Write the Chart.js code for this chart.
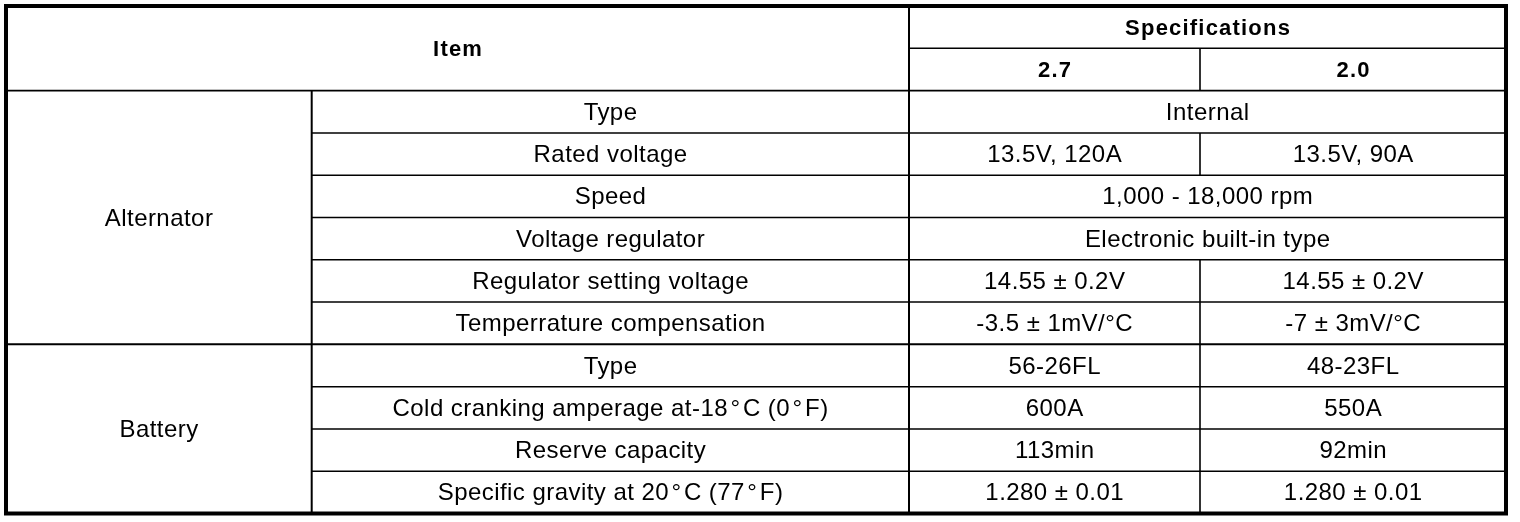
<!DOCTYPE html>
<html>
<head>
<meta charset="utf-8">
<script src="https://cdn.jsdelivr.net/npm/chart.js@4.4.1/dist/chart.umd.min.js"></script>
<style>
  html, body { margin: 0; padding: 0; background: #ffffff; }
  #wrap { width: 1520px; height: 522px; position: relative; }
</style>
</head>
<body>
<div id="wrap"><canvas id="c" width="1520" height="522"></canvas></div>
<script>
// ---- data ----
const headerItem = "Item";
const headerSpec = "Specifications";
const versions = ["2.7", "2.0"];
const groups = ["Alternator", "Battery"];
const groupSizes = [6, 4];
const items = [
  "Type",
  "Rated voltage",
  "Speed",
  "Voltage regulator",
  "Regulator setting voltage",
  "Temperrature compensation",
  "Type",
  "Cold cranking amperage at-18\u200A°\u200AC (0\u200A°\u200AF)",
  "Reserve capacity",
  "Specific gravity at 20\u200A°\u200AC (77\u200A°\u200AF)"
];
const spec27 = [
  "Internal",
  "13.5V, 120A",
  "1,000 - 18,000 rpm",
  "Electronic built-in type",
  "14.55 ± 0.2V",
  "-3.5 ± 1mV/\u00B0C",
  "56-26FL",
  "600A",
  "113min",
  "1.280 ± 0.01"
];
const spec20 = [
  null,
  "13.5V, 90A",
  null,
  null,
  "14.55 ± 0.2V",
  "-7 ± 3mV/\u00B0C",
  "48-23FL",
  "550A",
  "92min",
  "1.280 ± 0.01"
];

// ---- layout (x in table units, y in row units) ----
const colEdges = [0, 305.7, 903, 1194, 1500];
const nRows = items.length;

// cell anchor points built from the data
const cells = [];
cells.push({x: (colEdges[0] + colEdges[2]) / 2, y: -1, t: headerItem, b: true});
cells.push({x: (colEdges[2] + colEdges[4]) / 2, y: -1.5, t: headerSpec, b: true});
cells.push({x: (colEdges[2] + colEdges[3]) / 2, y: -0.5, t: versions[0], b: true});
cells.push({x: (colEdges[3] + colEdges[4]) / 2, y: -0.5, t: versions[1], b: true});
let start = 0;
groups.forEach((g, i) => {
  cells.push({x: (colEdges[0] + colEdges[1]) / 2, y: start + groupSizes[i] / 2, t: g});
  start += groupSizes[i];
});
items.forEach((it, r) => {
  cells.push({x: (colEdges[1] + colEdges[2]) / 2, y: r + 0.5, t: it});
  if (spec20[r] === null) {
    cells.push({x: (colEdges[2] + colEdges[4]) / 2, y: r + 0.5, t: spec27[r]});
  } else {
    cells.push({x: (colEdges[2] + colEdges[3]) / 2, y: r + 0.5, t: spec27[r]});
    cells.push({x: (colEdges[3] + colEdges[4]) / 2, y: r + 0.5, t: spec20[r]});
  }
});

const tablePlugin = {
  id: 'tablePlugin',
  afterDatasetsDraw(chart) {
    const ctx = chart.ctx;
    const X = v => chart.scales.x.getPixelForValue(v);
    const Y = v => chart.scales.y.getPixelForValue(v);
    ctx.save();
    ctx.strokeStyle = '#000';
    const line = (x1, y1, x2, y2, w) => {
      ctx.lineWidth = w;
      ctx.beginPath();
      ctx.moveTo(X(x1), Y(y1));
      ctx.lineTo(X(x2), Y(y2));
      ctx.stroke();
    };
    const L = colEdges[0], R = colEdges[4];
    // header lines
    line(colEdges[2], -1, R, -1, 1.5);
    line(L, 0, R, 0, 1.6);
    // row lines
    let gEnd = 0;
    const groupEnds = groupSizes.map(s => (gEnd += s));
    for (let r = 1; r < nRows; r++) {
      if (groupEnds.includes(r)) line(L, r, R, r, 2);
      else line(colEdges[1], r, R, r, 1.5);
    }
    // vertical lines
    line(colEdges[1], 0, colEdges[1], nRows, 2);
    line(colEdges[2], -2, colEdges[2], nRows, 2);
    line(colEdges[3], -1, colEdges[3], 0, 1.6);
    for (let r = 0; r < nRows; r++) {
      if (spec20[r] !== null) line(colEdges[3], r, colEdges[3], r + 1, 1.6);
    }
    // outer border
    ctx.lineWidth = 4;
    ctx.strokeRect(X(L), Y(-2), X(R) - X(L), Y(nRows) - Y(-2));
    // texts
    ctx.fillStyle = '#000';
    ctx.textAlign = 'center';
    ctx.textBaseline = 'middle';
    cells.forEach(c => {
      if (c.b) {
        ctx.font = 'bold 22px "Liberation Sans", Arial, sans-serif';
        ctx.letterSpacing = '1.2px';
        ctx.fillText(c.t, X(c.x) + 0.6, Y(c.y) + 1.5);
      } else {
        ctx.font = '24px "Liberation Sans", Arial, sans-serif';
        ctx.letterSpacing = '0.45px';
        ctx.fillText(c.t, X(c.x) + 0.2, Y(c.y) + 1.5);
      }
    });
    ctx.restore();
  }
};

new Chart(document.getElementById('c'), {
  type: 'scatter',
  data: {
    datasets: [{
      label: 'cells',
      data: cells.map(c => ({x: c.x, y: c.y})),
      pointRadius: 0,
      pointHoverRadius: 0
    }]
  },
  options: {
    responsive: false,
    animation: false,
    devicePixelRatio: 1,
    layout: { padding: { left: 6, right: 14, top: 6, bottom: 8.5 } },
    plugins: { legend: { display: false }, tooltip: { enabled: false } },
    events: [],
    scales: {
      x: { type: 'linear', min: colEdges[0], max: colEdges[4], display: false },
      y: { type: 'linear', min: -2, max: nRows, reverse: true, display: false }
    }
  },
  plugins: [tablePlugin]
});
</script>
</body>
</html>
